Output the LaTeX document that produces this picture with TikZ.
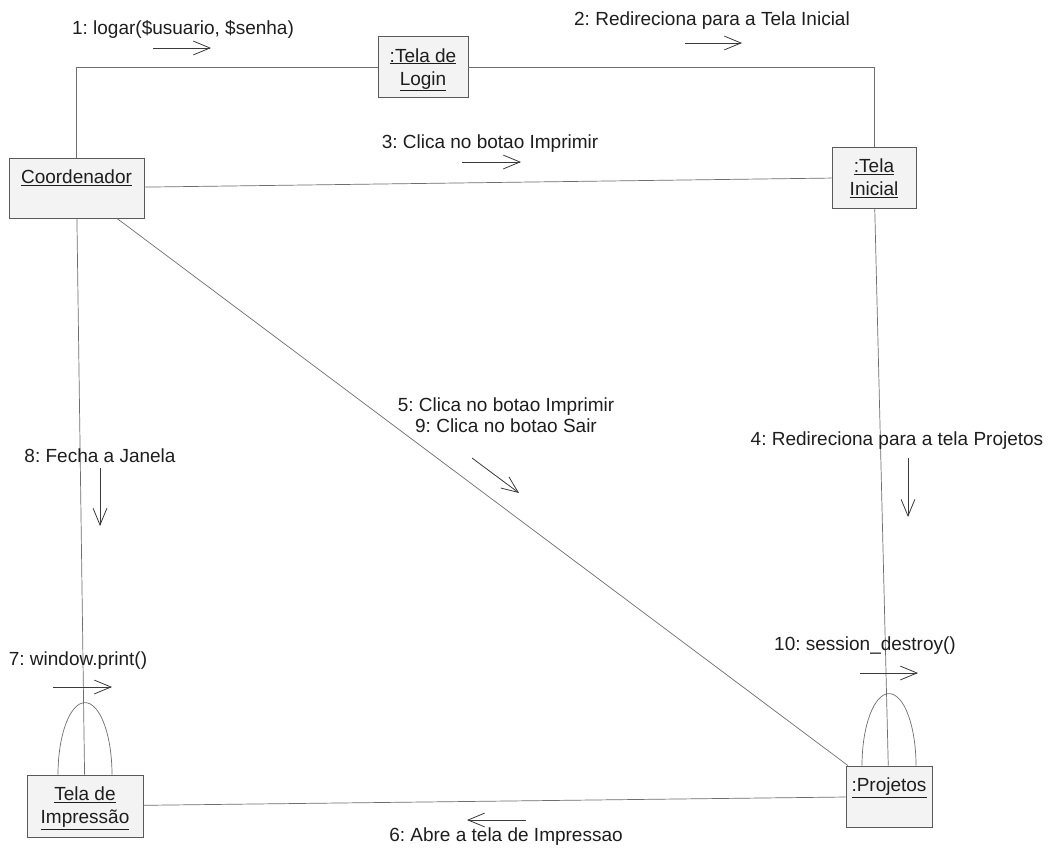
\documentclass[tikz,border=0pt]{standalone}
\usepackage{fontspec}
\setmainfont{Liberation Sans}
\usetikzlibrary{arrows.meta}
\definecolor{boxc}{HTML}{5A5A5A}
\definecolor{boxf}{HTML}{F3F3F3}
\definecolor{linec}{HTML}{6E6E6E}
\definecolor{arrc}{HTML}{3A3A3A}
\definecolor{txtc}{HTML}{1E1E1E}
\newcommand{\fs}{\fontsize{19}{23}\selectfont}
\frenchspacing
\begin{document}
\begin{tikzpicture}[x=1pt,y=-1pt,
  obj/.style={draw=boxc, fill=boxf, line width=0.8pt, inner sep=0pt, rectangle},
  objtxt/.style={anchor=north, inner sep=0pt, align=center, font=\fs, text=txtc, yshift=-12pt},
  link/.style={draw=linec, line width=0.7pt},
  msg/.style={draw=arrc, line width=0.8pt, -{Straight Barb[angle=45:18pt]}},
  lbl/.style={inner sep=0pt, font=\fs, text=txtc, anchor=base},
  lbl2/.style={inner sep=0pt, font=\fontsize{19}{21}\selectfont, text=txtc, anchor=north, align=center}]
\useasboundingbox[fill=white] (0,0) rectangle (1054,856);

% objects
\node[obj, minimum width=90pt, minimum height=61pt] (login) at (423,67) {};
\node[obj, minimum width=135pt, minimum height=60pt] (coord) at (76.5,188) {};
\node[obj, minimum width=84pt, minimum height=61pt] (inicial) at (874,177.5) {};
\node[obj, minimum width=116pt, minimum height=62pt] (imp) at (85,806) {};
\node[obj, minimum width=86pt, minimum height=61pt] (proj) at (889,796.5) {};

% links
\draw[link] (coord.north) |- (login.west);
\draw[link] (login.east) -| (inicial.north);
\draw[link] (coord) -- (inicial);
\draw[link] (coord) -- (imp);
\draw[link] (inicial) -- (proj);
\draw[link] (imp) -- (proj);
\draw[link] (coord) -- (proj);
\draw[link] ([xshift=-27pt]imp.north) arc[start angle=180, end angle=0, x radius=27pt, y radius=72pt];
\draw[link] ([xshift=-27pt]proj.north) arc[start angle=180, end angle=0, x radius=27pt, y radius=72pt];

% object labels
\node[objtxt] (loginT) at (login.north) {\underline{:Tela de}\\\underline{Login}};
\node[objtxt] (coordT) at (coord.north) {\underline{Coordenador}};
\node[objtxt] (inicialT) at (inicial.north) {\underline{:Tela}\\\underline{Inicial}};
\node[objtxt] (impT) at (imp.north) {\underline{Tela de}\\\underline{Impressão}};
\node[objtxt] (projT) at (proj.north) {\underline{:Projetos}};

% message arrows
\coordinate (m1a) at (153,48);  \coordinate (m1b) at (211,48);
\coordinate (m2a) at (685,43);  \coordinate (m2b) at (742,43);
\coordinate (m3a) at (462,162); \coordinate (m3b) at (521,162);
\coordinate (m4a) at (908,458); \coordinate (m4b) at (908,517);
\coordinate (m5a) at (472,458); \coordinate (m5b) at (519,493);
\coordinate (m6a) at (526,820); \coordinate (m6b) at (467,820);
\coordinate (m7a) at (53,687);  \coordinate (m7b) at (112,687);
\coordinate (m8a) at (100,468); \coordinate (m8b) at (100,526);
\coordinate (m10a) at (860,673); \coordinate (m10b) at (918,673);
\draw[msg] (m1a) -- (m1b);
\draw[msg] (m2a) -- (m2b);
\draw[msg] (m3a) -- (m3b);
\draw[msg] (m4a) -- (m4b);
\draw[msg] (m5a) -- (m5b);
\draw[msg] (m6a) -- (m6b);
\draw[msg] (m7a) -- (m7b);
\draw[msg] (m8a) -- (m8b);
\draw[msg] (m10a) -- (m10b);

% message labels
\node[lbl] (l1) at (183,35) {1: logar(\$usuario, \$senha)};
\node[lbl] (l2) at (712,26) {2: Redireciona para a Tela Inicial};
\node[lbl] (l3) at (490,148) {3: Clica no botao Imprimir};
\node[lbl] (l4) at (897,445) {4: Redireciona para a tela Projetos};
\node[lbl2] (l5) at (506,398) {5: Clica no botao Imprimir\\9: Clica no botao Sair};
\node[lbl] (l6) at (506,841) {6: Abre a tela de Impressao};
\node[lbl] (l7) at (78,665) {7: window.print()};
\node[lbl] (l8) at (100,462) {8: Fecha a Janela};
\node[lbl] (l10) at (865,650) {10: session\_destroy()};
\end{tikzpicture}
\end{document}
